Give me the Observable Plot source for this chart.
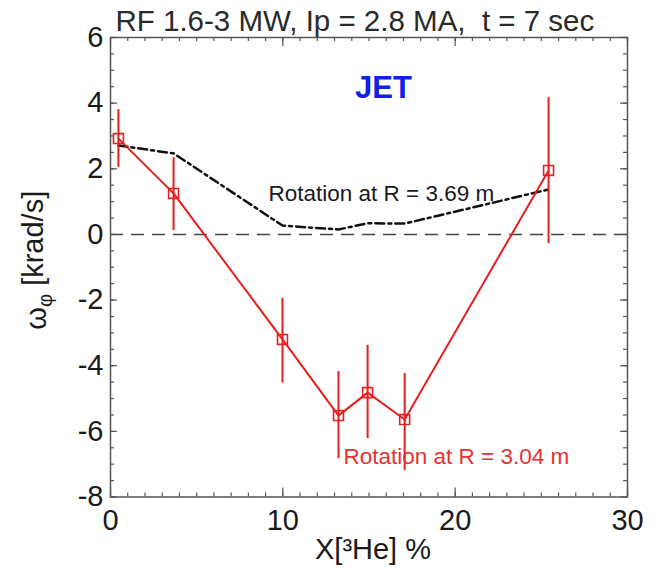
<!DOCTYPE html>
<html>
<head>
<meta charset="utf-8">
<script src="https://cdn.jsdelivr.net/npm/d3@7"></script>
<script src="https://cdn.jsdelivr.net/npm/@observablehq/plot@0.6"></script>
<style>
  html, body { margin: 0; padding: 0; background: #fff; }
</style>
</head>
<body>
<div id="chart"></div>
<script>
// ---- data ----
const he3 = [0.46, 3.66, 9.98, 13.23, 14.92, 17.07, 25.42];          // X[3He] %
const omega304 = [2.92, 1.25, -3.20, -5.52, -4.82, -5.64, 1.95];      // rotation at R = 3.04 m
const errLow  = [2.04, 0.12, -4.53, -6.83, -6.22, -7.19, -0.28];
const errHigh = [3.80, 2.34, -1.95, -4.18, -3.38, -4.24, 4.17];
const omega369 = [2.71, 2.47, 0.27, 0.15, 0.34, 0.33, 1.37];          // rotation at R = 3.69 m

const xTickLabels = [0, 10, 20, 30];
const yTickLabels = [-8, -6, -4, -2, 0, 2, 4, 6];

const titleText = "RF 1.6-3 MW, Ip = 2.8 MA,\u00a0 t = 7 sec";
const xLabel = "X[³He] %";
const yLabel = "ω [krad/s]";
const annotations = [
  {x: 9.17, y: 1.23, text: "Rotation at R = 3.69 m", series: "369"},
  {x: 13.52, y: -6.76, text: "Rotation at R = 3.04 m", series: "304"}
];
const jetLabel = [{x: 15.84, y: 4.45, text: "JET"}];

const rows = he3.map((x, i) => ({x, w304: omega304[i], lo: errLow[i], hi: errHigh[i], w369: omega369[i]}));

const W = 658, H = 569, ML = 110, MR = 31, MT = 37, MB = 72.5;
const FW = W - ML - MR, FH = H - MT - MB;
const RED = "#e41f1f";
const FRAME = "#555";
const minorX = d3.range(0, 31, 1);
const minorY = d3.range(-8, 6.01, 0.5);
const tk = {stroke: FRAME, strokeWidth: 1.2};

const chart = Plot.plot({
  width: W,
  height: H,
  marginLeft: ML,
  marginRight: MR,
  marginTop: MT,
  marginBottom: MB,
  style: {fontFamily: "'Liberation Sans', Arial, sans-serif", background: "#fff", color: "#222", overflow: "visible"},
  x: {domain: [0, 30], axis: null},
  y: {domain: [-8, 6], axis: null},
  marks: [
    // zero line
    Plot.ruleY([0], {stroke: "#444", strokeWidth: 1.5, strokeDasharray: "13,8"}),
    // inward ticks: bottom & top
    Plot.tickX(minorX, {x: d => d, insetTop: FH - 4, ...tk}),
    Plot.tickX(xTickLabels, {x: d => d, insetTop: FH - 9, ...tk}),
    Plot.tickX(minorX, {x: d => d, insetBottom: FH - 4, ...tk}),
    Plot.tickX(xTickLabels, {x: d => d, insetBottom: FH - 9, ...tk}),
    // inward ticks: left & right
    Plot.tickY(minorY, {y: d => d, insetRight: FW - 4, ...tk}),
    Plot.tickY(yTickLabels, {y: d => d, insetRight: FW - 7, ...tk}),
    Plot.tickY(minorY, {y: d => d, insetLeft: FW - 4, ...tk}),
    Plot.tickY(yTickLabels, {y: d => d, insetLeft: FW - 7, ...tk}),
    // tick labels
    Plot.axisX(xTickLabels, {anchor: "bottom", tickSize: 0, tickPadding: 12, fontSize: 29, tickFormat: d => String(d), label: null, fill: "#1a1a1a"}),
    Plot.axisY(yTickLabels, {anchor: "left", tickSize: 0, tickPadding: 7, fontSize: 29, tickFormat: d => String(d), label: null, fill: "#1a1a1a"}),
    Plot.frame({stroke: FRAME, strokeWidth: 1.5}),
    // R = 3.69 m dash-dot line
    Plot.line(rows, {x: "x", y: "w369", stroke: "#111", strokeWidth: 2.5, strokeDasharray: "9,4,3,4"}),
    // R = 3.04 m with error bars
    Plot.ruleX(rows, {x: "x", y1: "lo", y2: "hi", stroke: RED, strokeWidth: 2}),
    Plot.line(rows, {x: "x", y: "w304", stroke: RED, strokeWidth: 2}),
    Plot.dot(rows, {x: "x", y: "w304", symbol: "square", r: 5.6, stroke: RED, strokeWidth: 1.6, fill: "none"}),
    // annotations
    Plot.text(annotations, {x: "x", y: "y", text: "text", textAnchor: "start", fontSize: 22.5,
      fill: d => d.series === "304" ? "#e53232" : "#1a1a1a"}),
    Plot.text(jetLabel, {x: "x", y: "y", text: "text", fontSize: 31, fontWeight: "bold", fill: "#1020e6"}),
    // title
    Plot.text([titleText], {frameAnchor: "top-left", text: d => d, textAnchor: "start", lineAnchor: "middle", dx: 5, dy: -16, fontSize: 29.5, fill: "#2a2a2a"}),
    // axis labels
    Plot.text([xLabel], {frameAnchor: "bottom", text: d => d, textAnchor: "middle", lineAnchor: "middle", dx: 4, dy: 52.5, fontSize: 29, fill: "#1a1a1a"}),
    Plot.text([yLabel], {frameAnchor: "left", text: d => d, textAnchor: "middle", lineAnchor: "middle", rotate: -90, dx: -74, dy: -7, fontSize: 29, fill: "#1a1a1a"})
  ]
});

document.getElementById("chart").appendChild(chart);

// subscript phi in the y-axis label
d3.select(chart).selectAll("text").filter(function () { return this.textContent === yLabel; })
  .each(function () {
    const t = d3.select(this);
    t.text(null);
    t.append("tspan").text("ω");
    t.append("tspan").attr("dy", "0.3em").attr("font-size", "0.7em").text("φ");
    t.append("tspan").attr("dy", "-0.3em").text(" [krad/s]");
  });
</script>
</body>
</html>
